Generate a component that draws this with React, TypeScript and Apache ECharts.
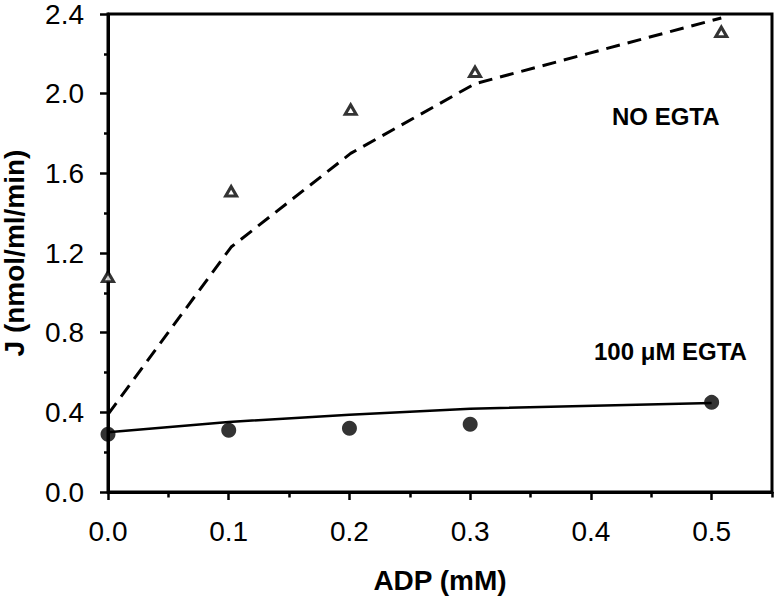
import React, { useEffect, useRef } from "react";
import * as echarts from "echarts";

// ADP concentration (mM) and flux J (nmol/ml/min)
const adpNoEgta = [0, 0.102, 0.201, 0.304, 0.508];
const jNoEgta = [1.08, 1.51, 1.92, 2.11, 2.31];
const fitNoEgta = [0.39, 1.23, 1.70, 2.05, 2.38];

const adpEgta = [0, 0.1, 0.2, 0.3, 0.5];
const jEgta = [0.29, 0.31, 0.32, 0.34, 0.45];
const fitEgta = [0.30, 0.352, 0.388, 0.418, 0.447];

const xMajorTicks = [0, 0.1, 0.2, 0.3, 0.4, 0.5];
const xMinorTicks = [0.05, 0.15, 0.25, 0.35, 0.45, 0.55];
const yTicks = [0, 0.4, 0.8, 1.2, 1.6, 2.0, 2.4];

const FONT = "'Liberation Sans', Arial, sans-serif";

export default function App() {
  const ref = useRef<HTMLDivElement>(null);
  useEffect(() => {
    if (!ref.current) return;
    const chart = echarts.init(ref.current, null, { renderer: "svg" });
    const pair = (xs: number[], ys: number[]) => xs.map((x, i) => [x, ys[i]]);
    chart.setOption({
      animation: false,
      backgroundColor: "#fff",
      grid: {
        left: 108,
        top: 14,
        right: 4,
        bottom: 108,
        show: true,
        borderColor: "#000",
        borderWidth: 3,
        containLabel: false,
        outerBoundsMode: "none",
      },
      xAxis: [
        {
          type: "value",
          min: 0,
          max: 0.55,
          interval: 0.1,
          splitLine: { show: false },
          axisLine: { show: true, onZero: false, lineStyle: { color: "#000", width: 3 } },
          axisTick: {
            show: true,
            customValues: xMajorTicks,
            length: 8,
            inside: false,
            lineStyle: { color: "#000", width: 2.5 },
          },
          axisLabel: {
            customValues: xMajorTicks,
            formatter: (v: number) => v.toFixed(1),
            color: "#000",
            fontFamily: FONT,
            fontSize: 28,
            margin: 25,
          },
          name: "ADP (mM)",
          nameLocation: "middle",
          nameGap: 74,
          nameTextStyle: { color: "#000", fontFamily: FONT, fontSize: 28, fontWeight: "bold" },
        },
        {
          type: "value",
          min: 0,
          max: 0.55,
          position: "bottom",
          splitLine: { show: false },
          axisLine: { show: false },
          axisLabel: { show: false },
          axisTick: {
            show: true,
            customValues: xMinorTicks,
            length: 5.5,
            lineStyle: { color: "#000", width: 2.5 },
          },
        },
      ],
      yAxis: {
        type: "value",
        min: 0,
        max: 2.4,
        interval: 0.4,
        splitLine: { show: false },
        axisLine: { show: true, onZero: false, lineStyle: { color: "#000", width: 3 } },
        axisTick: {
          show: true,
          customValues: yTicks,
          length: 8,
          lineStyle: { color: "#000", width: 2.5 },
        },
        minorTick: { show: true, splitNumber: 2, length: 4, lineStyle: { color: "#000", width: 2.5 } },
        axisLabel: {
          customValues: yTicks,
          formatter: (v: number) => v.toFixed(1),
          color: "#000",
          fontFamily: FONT,
          fontSize: 28,
          margin: 24,
        },
        name: "J (nmol/ml/min)",
        nameLocation: "middle",
        nameGap: 80,
        nameTextStyle: { color: "#000", fontFamily: FONT, fontSize: 28, fontWeight: "bold" },
      },
      series: [
        {
          name: "NO EGTA fit",
          type: "line",
          data: pair(adpNoEgta, fitNoEgta),
          showSymbol: false,
          symbol: "none",
          lineStyle: { color: "#000", width: 3, type: [14, 8] },
          z: 2,
        },
        {
          name: "100 µM EGTA fit",
          type: "line",
          data: pair(adpEgta, fitEgta),
          showSymbol: false,
          symbol: "none",
          lineStyle: { color: "#000", width: 2.5 },
          z: 2,
        },
        {
          name: "NO EGTA",
          type: "scatter",
          data: pair(adpNoEgta, jNoEgta),
          symbol: "triangle",
          symbolSize: [11, 9.5],
          itemStyle: { color: "#fff", borderColor: "#000", borderWidth: 3 },
          z: 3,
        },
        {
          name: "100 µM EGTA",
          type: "scatter",
          data: pair(adpEgta, jEgta),
          symbol: "circle",
          symbolSize: 15,
          itemStyle: { color: "#000" },
          z: 3,
        },
      ],
      graphic: [
        {
          type: "text",
          left: 612,
          top: 104,
          style: { text: "NO EGTA", fill: "#000", font: `bold 24px ${FONT}` },
        },
        {
          type: "text",
          left: 594,
          top: 339,
          style: { text: "100 μM EGTA", fill: "#000", font: `bold 24px ${FONT}` },
        },
      ],
    });
    return () => chart.dispose();
  }, []);
  return (
    <div
      ref={ref}
      style={{ position: "absolute", left: 0, top: 0, width: 776, height: 600, background: "#fff" }}
    />
  );
}
